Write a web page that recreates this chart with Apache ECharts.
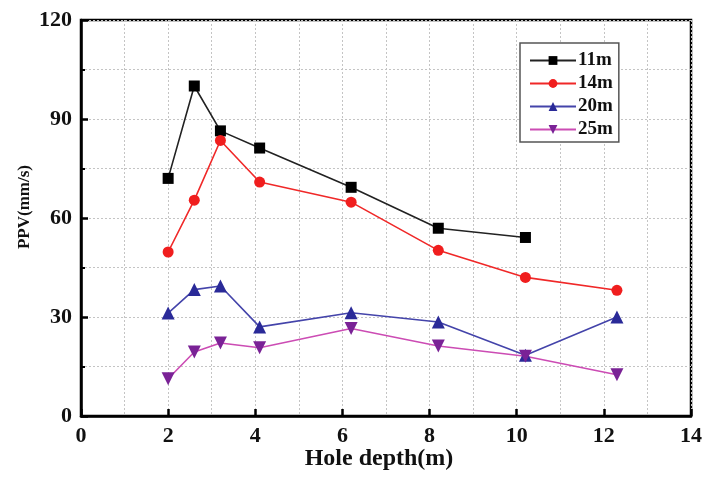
<!DOCTYPE html>
<html>
<head>
<meta charset="utf-8">
<script src="https://cdn.jsdelivr.net/npm/echarts@6/dist/echarts.min.js"></script>
<style>
  html, body { margin: 0; padding: 0; background: #fff; }
  #chart { width: 706px; height: 479px; }
</style>
</head>
<body>
<div id="chart"></div>
<script>
// Hole depth (m) and peak particle velocity (mm/s) at four monitoring distances
const depth11 = [2.0, 2.6, 3.2, 4.1, 6.2, 8.2, 10.2];
const ppv11   = [72.0, 100.0, 86.4, 81.2, 69.3, 56.9, 54.1];

const depthOther = [2.0, 2.6, 3.2, 4.1, 6.2, 8.2, 10.2, 12.3];
const ppv14 = [49.7, 65.4, 83.5, 70.9, 64.8, 50.2, 42.0, 38.1];
const ppv20 = [31.2, 38.3, 39.4, 27.0, 31.3, 28.5, 18.4, 30.0];
const ppv25 = [11.3, 19.4, 22.1, 20.7, 26.5, 21.2, 18.1, 12.5];

const seriesNames = ['11m', '14m', '20m', '25m'];
const xTicks = [0, 2, 4, 6, 8, 10, 12, 14];
const yTicks = [0, 30, 60, 90, 120];

const pairs = (xs, ys) => xs.map((x, i) => [x, ys[i]]);

const FONT = '"Liberation Serif", "Times New Roman", serif';

const chart = echarts.init(document.getElementById('chart'), null, { renderer: 'canvas' });

const gridLine = { show: true, lineStyle: { color: '#c4c4c4', type: [2, 2], width: 1 } };

chart.setOption({
  animation: false,
  backgroundColor: '#fff',
  grid: {
    left: 81, right: 15, top: 20, bottom: 63,
    outerBoundsMode: 'none',
    containLabel: false,
    show: true, borderColor: '#000', borderWidth: 2.5, backgroundColor: 'transparent'
  },
  legend: {
    orient: 'vertical',
    left: 520, top: 43,
    padding: [8, 6, 3, 9],
    borderColor: '#555', borderWidth: 1.5, borderRadius: 0,
    backgroundColor: '#fff',
    itemWidth: 46, itemHeight: 11, itemGap: 4,
    data: seriesNames,
    textStyle: { fontFamily: FONT, fontWeight: 'bold', fontSize: 19, lineHeight: 18, color: '#111', padding: [0, 0, 0, -3] }
  },
  xAxis: {
    type: 'value',
    min: xTicks[0], max: xTicks[xTicks.length - 1], interval: 2,
    name: 'Hole depth(m)',
    nameLocation: 'middle', nameGap: 31,
    nameMoveOverlap: false,
    nameTextStyle: { fontFamily: FONT, fontWeight: 'bold', fontSize: 24, color: '#111', padding: [0, 14, 0, 0] },
    axisLine: { show: true, lineStyle: { color: '#000', width: 2.5 } },
    axisTick: { show: true, inside: true, length: 7, lineStyle: { color: '#000', width: 2.5 } },
    axisLabel: { fontFamily: FONT, fontWeight: 'bold', fontSize: 22, color: '#111', margin: 9 },
    splitLine: gridLine,
    minorTick: { show: false, splitNumber: 2 },
    minorSplitLine: gridLine
  },
  yAxis: {
    type: 'value',
    min: yTicks[0], max: yTicks[yTicks.length - 1], interval: 30,
    name: 'PPV(mm/s)',
    nameLocation: 'middle', nameGap: 48,
    nameMoveOverlap: false,
    nameTextStyle: { fontFamily: FONT, fontWeight: 'bold', fontSize: 17, color: '#111', padding: [0, 0, 0, 22] },
    axisLine: { show: true, lineStyle: { color: '#000', width: 2.5 } },
    axisTick: { show: true, inside: true, length: 7, lineStyle: { color: '#000', width: 2.5 } },
    axisLabel: { fontFamily: FONT, fontWeight: 'bold', fontSize: 22, color: '#111', margin: 9 },
    splitLine: gridLine,
    minorTick: { show: true, splitNumber: 2, length: 4, lineStyle: { color: '#000', width: 2 } },
    minorSplitLine: gridLine
  },
  series: [
    {
      name: seriesNames[0], type: 'line', data: pairs(depth11, ppv11),
      symbol: 'rect', symbolSize: 11,
      itemStyle: { color: '#000' },
      lineStyle: { color: '#222', width: 1.6 }
    },
    {
      name: seriesNames[1], type: 'line', data: pairs(depthOther, ppv14),
      symbol: 'circle', symbolSize: 11,
      itemStyle: { color: '#f01e1e' },
      lineStyle: { color: '#f02828', width: 1.6 }
    },
    {
      name: seriesNames[2], type: 'line', data: pairs(depthOther, ppv20),
      symbol: 'triangle', symbolSize: 13,
      itemStyle: { color: '#2a2a98' },
      lineStyle: { color: '#4444aa', width: 1.6 }
    },
    {
      name: seriesNames[3], type: 'line', data: pairs(depthOther, ppv25),
      symbol: 'triangle', symbolRotate: 180, symbolSize: 13,
      itemStyle: { color: '#7a2296' },
      lineStyle: { color: '#cc4cb4', width: 1.6 }
    }
  ]
});
</script>
</body>
</html>
